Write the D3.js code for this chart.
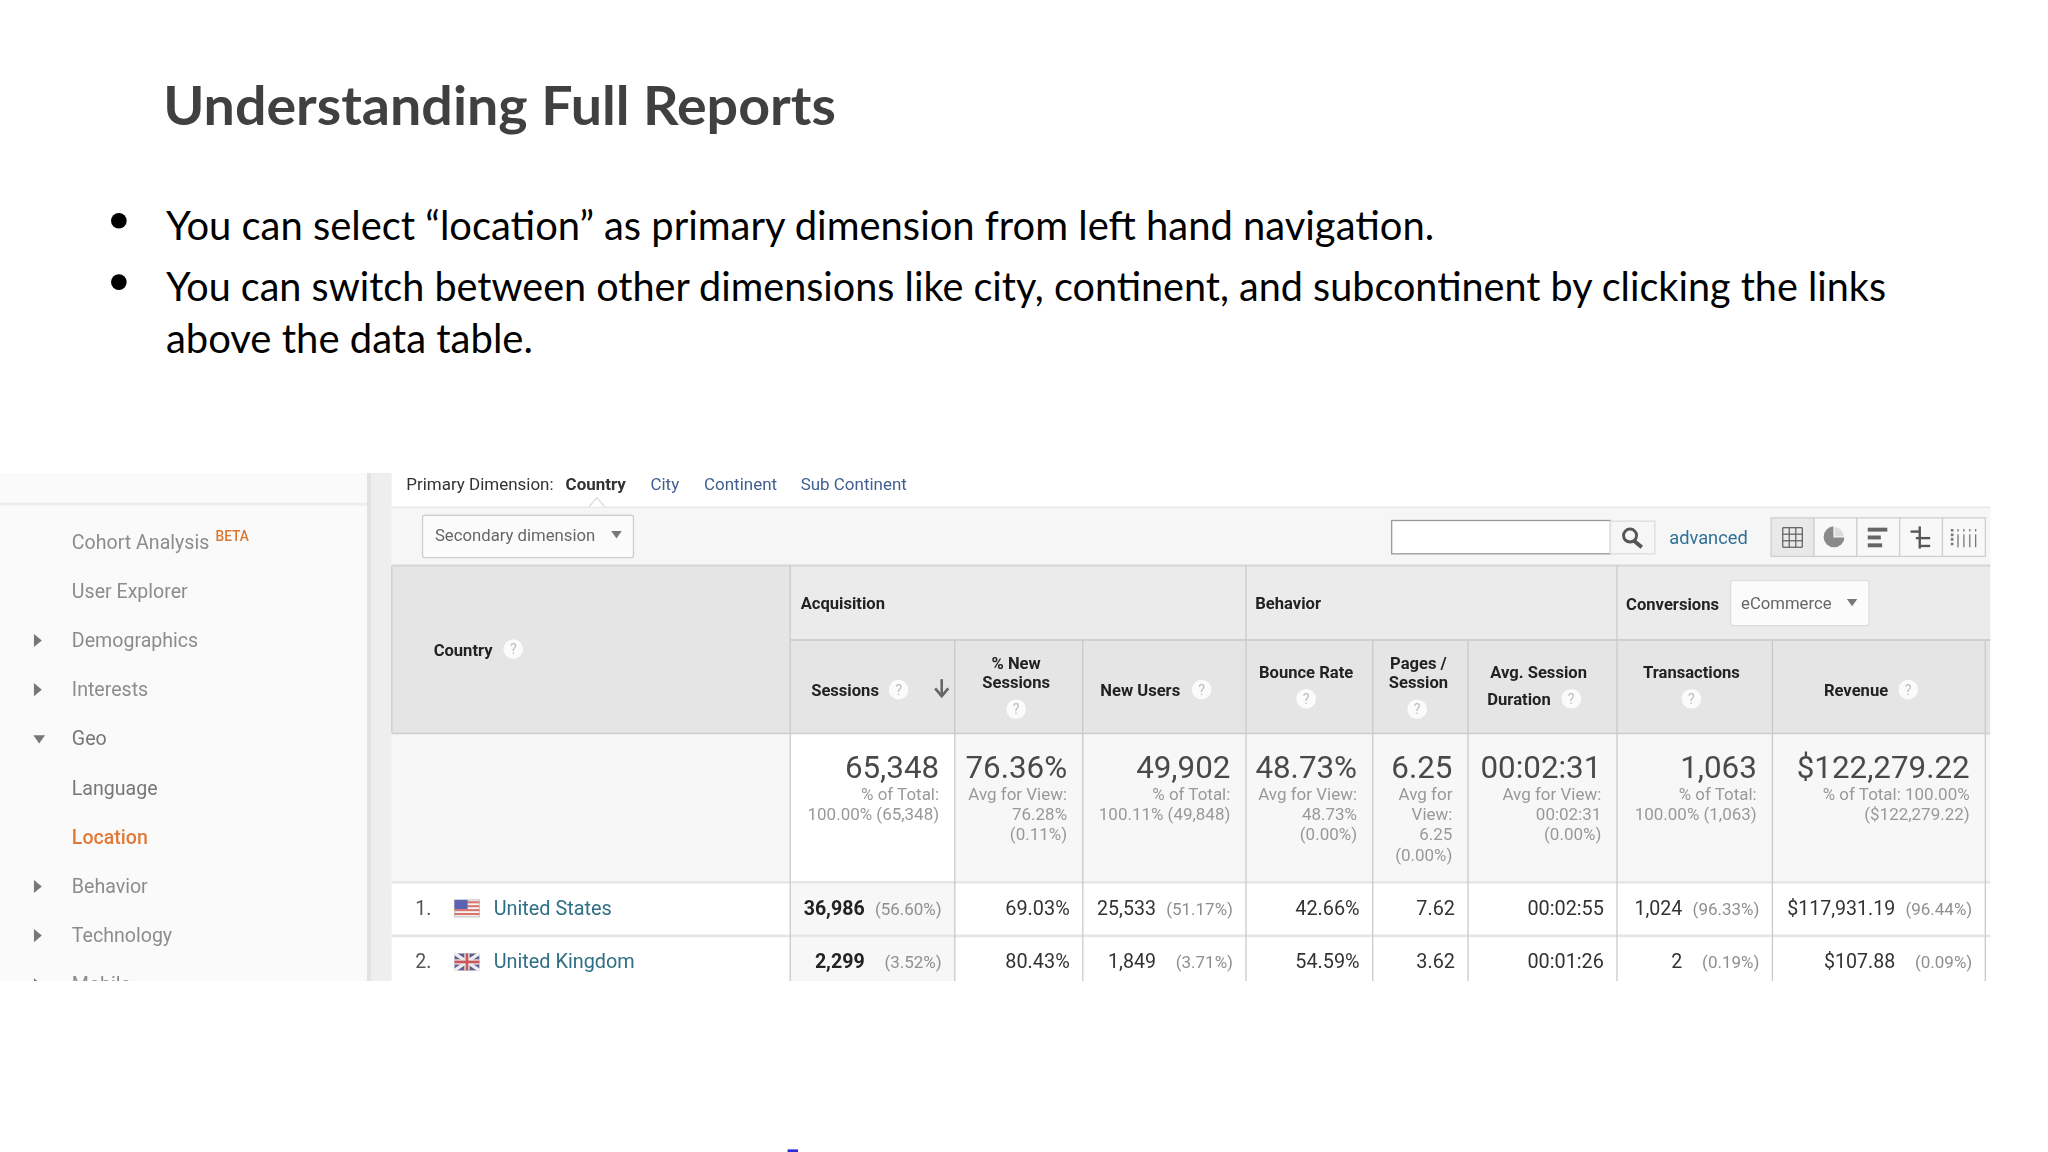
<!DOCTYPE html>
<html>
<head>
<meta charset="utf-8">
<title>Understanding Full Reports</title>
<script src="https://cdn.jsdelivr.net/npm/d3@7"></script>
<style>
  body { margin: 0; background: #fff; }
  text { font-family: Roboto, sans-serif; }
  .slide text { font-family: Lato, Carlito, sans-serif; }
</style>
</head>
<body>
<svg id="chart" width="2048" height="1152" viewBox="0 0 1568 882"></svg>
<script>
// slide text
var slideTitle = "Understanding Full Reports";
var bulletLines = [
  "You can select \u201Clocation\u201D as primary dimension from left hand navigation.",
  "You can switch between other dimensions like city, continent, and subcontinent by clicking the links",
  "above the data table."
];

// report values
var navItems = ["Cohort Analysis", "User Explorer", "Demographics", "Interests", "Geo", "Language", "Location", "Behavior", "Technology", "Mobile"];
var navArrows = ["", "", "right", "right", "down", "", "", "right", "right", "right"];
var dimensions = ["Country", "City", "Continent", "Sub Continent"];
var metrics = ["Sessions", "% New Sessions", "New Users", "Bounce Rate", "Pages / Session", "Avg. Session Duration", "Transactions", "Revenue"];
var totals = ["65,348", "76.36%", "49,902", "48.73%", "6.25", "00:02:31", "1,063", "$122,279.22"];
var totalNotes = [
  ["% of Total:", "100.00% (65,348)"],
  ["Avg for View:", "76.28%", "(0.11%)"],
  ["% of Total:", "100.11% (49,848)"],
  ["Avg for View:", "48.73%", "(0.00%)"],
  ["Avg for", "View:", "6.25", "(0.00%)"],
  ["Avg for View:", "00:02:31", "(0.00%)"],
  ["% of Total:", "100.00% (1,063)"],
  ["% of Total: 100.00%", "($122,279.22)"]
];
var countries = ["United States", "United Kingdom"];
var usValues = ["36,986", "69.03%", "25,533", "42.66%", "7.62", "00:02:55", "1,024", "$117,931.19"];
var usShares = ["(56.60%)", "", "(51.17%)", "", "", "", "(96.33%)", "(96.44%)"];
var ukValues = ["2,299", "80.43%", "1,849", "54.59%", "3.62", "00:01:26", "2", "$107.88"];
var ukShares = ["(3.52%)", "", "(3.71%)", "", "", "", "(0.19%)", "(0.09%)"];

var svg = d3.select("#chart");
svg.append("defs").html(
  '<filter id="soft" x="0" y="0" width="100%" height="100%"><feGaussianBlur stdDeviation="0.4"/></filter>' +
  '<clipPath id="shot"><rect x="0" y="362" width="1524" height="389"/></clipPath>');

// helpers
function rect(g, x0, y0, x1, y1, fill, stroke) {
  return g.append("rect").attr("x", x0).attr("y", y0).attr("width", x1 - x0).attr("height", y1 - y0)
    .attr("fill", fill).attr("stroke", stroke || "none");
}
function line(g, x0, y0, x1, y1, color, w) {
  return g.append("line").attr("x1", x0).attr("y1", y0).attr("x2", x1).attr("y2", y1)
    .attr("stroke", color).attr("stroke-width", w || 1);
}
function label(g, str, x, y, size, color, anchor, weight) {
  return g.append("text").attr("x", x).attr("y", y).attr("font-size", size).attr("fill", color)
    .attr("text-anchor", anchor || "start").attr("font-weight", weight || 400).text(str);
}
function help(g, x, y) {
  g.append("circle").attr("cx", x).attr("cy", y).attr("r", 7.5).attr("fill", "#fbfbfb");
  label(g, "?", x, y + 4, 11, "#bdbdbd", "middle");
}
function tri(g, x, y, dir, s) {
  s = s || 1;
  var p = dir == "right" ? [[x, y - 5], [x + 6, y], [x, y + 5]] : [[x - 5 * s, y - 3 * s], [x + 5 * s, y - 3 * s], [x, y + 4 * s]];
  g.append("path").attr("d", d3.line()(p) + "Z").attr("fill", "#777");
}

// slide header
var slide = svg.append("g").attr("class", "slide");
slide.append("text").attr("x", 125).attr("y", 96).attr("font-size", 41).attr("font-weight", 700).attr("fill", "#404040")
  .attr("textLength", 515).attr("lengthAdjust", "spacingAndGlyphs").text(slideTitle);
var bulletX = [971, 1317, 281];
var bulletY = [183.5, 230.5, 270];
slide.selectAll("text.bullet").data(bulletLines).join("text").attr("class", "bullet")
  .attr("x", 127).attr("y", function(d, i) { return bulletY[i]; })
  .attr("font-size", 31).attr("fill", "#000")
  .attr("textLength", function(d, i) { return bulletX[i]; }).attr("lengthAdjust", "spacingAndGlyphs")
  .text(function(d) { return d; });
slide.selectAll("circle").data([169, 216]).join("circle").attr("cx", 91).attr("cy", function(d) { return d; }).attr("r", 6).attr("fill", "#000");
rect(svg, 603, 880, 611, 882, "#2a2ae0");

// screenshot
var shot = svg.append("g").attr("clip-path", "url(#shot)").attr("filter", "url(#soft)");

// left navigation
rect(shot, 0, 362, 281, 751, "#fafafa");
line(shot, 0, 386, 281, 386, "#ececec", 2);
rect(shot, 281, 362, 300, 751, "#eeeeee");
rect(shot, 281, 362, 284, 751, "#e2e2e2");
var navY = d3.scalePoint().domain(navItems).range([420, 759]);
navItems.forEach(function(d, i) {
  var y = navY(d);
  label(shot, d, 55, y, 15, d == "Location" ? "#e07a38" : (d == "Geo" || d == "Language" ? "#777" : "#8c8c8c"), "start", d == "Location" ? 500 : 400);
  if (navArrows[i]) tri(shot, navArrows[i] == "right" ? 26 : 30, y - 5, navArrows[i], 0.9);
});
label(shot, "BETA", 165, 414, 10.5, "#d9772f", "start", 500);

// dimension bar
rect(shot, 300, 362, 1524, 388, "#ffffff");
line(shot, 300, 388.5, 1524, 388.5, "#e8e8e8", 1.5);
label(shot, "Primary Dimension:", 311, 375, 13, "#333");
var dimX = [433, 498, 539, 613];
dimensions.forEach(function(d, i) {
  label(shot, d, dimX[i], 375, 13, i ? "#3f5f8f" : "#333", "start", i ? 400 : 700);
});
shot.append("path").attr("d", "M451,388L457,381L463,388").attr("fill", "#fff").attr("stroke", "#ddd");

// toolbar
rect(shot, 300, 389, 1524, 433, "#f6f6f6");
rect(shot, 323.5, 394.5, 485, 427, "#fbfbfb", "#cfcfcf").attr("rx", 2);
label(shot, "Secondary dimension", 333, 414, 12.8, "#666");
tri(shot, 472, 409, "down", 0.8);
rect(shot, 1065.5, 398.5, 1233, 424, "#fff", "#999");
rect(shot, 1233, 399, 1267, 424, "#f6f6f6", "#ddd");
shot.append("circle").attr("cx", 1248).attr("cy", 410).attr("r", 5).attr("fill", "none").attr("stroke", "#555").attr("stroke-width", 2.2);
line(shot, 1251, 414, 1257, 419, "#555", 3);
label(shot, "advanced", 1278, 416.5, 14, "#2f7196");

// view switcher icons
var iconX = d3.scaleBand().domain(d3.range(5)).range([1356, 1520]);
iconX.domain().forEach(function(i) {
  rect(shot, iconX(i), 396.5, iconX(i) + iconX.bandwidth(), 426, i ? "#f8f8f8" : "#e9e9e9", "#cfcfcf");
});
var ic = iconX.bandwidth() / 2;
var c0 = iconX(0) + ic, c1 = iconX(1) + ic, c2 = iconX(2) + ic, c3 = iconX(3) + ic, c4 = iconX(4) + ic;
d3.range(4).forEach(function(k) {
  line(shot, c0 - 7.5 + k * 5, 404, c0 - 7.5 + k * 5, 419, "#666");
  line(shot, c0 - 7.5, 404 + k * 5, c0 + 7.5, 404 + k * 5, "#666");
});
shot.append("circle").attr("cx", c1 - 1).attr("cy", 411).attr("r", 8).attr("fill", "#8a8a8a");
shot.append("path").attr("d", "M" + (c1 - 1) + ",411V403A8,8 0 0 1 " + (c1 + 7) + ",411Z").attr("fill", "#ddd").attr("stroke", "#f8f8f8");
rect(shot, c2 - 8, 404, c2 + 7, 407, "#666");
rect(shot, c2 - 8, 410, c2 + 2, 413, "#666");
rect(shot, c2 - 8, 416, c2 + 3, 419, "#666");
line(shot, c3 - 1, 403, c3 - 1, 420, "#555", 1.8);
line(shot, c3 - 8, 407, c3 - 1, 407, "#555", 1.8);
line(shot, c3 - 4, 412, c3 + 7, 412, "#555", 1.8);
line(shot, c3 - 1, 418, c3 + 7, 418, "#555", 1.8);
d3.range(5).forEach(function(k) {
  var x = c4 - 9 + k * 4.5;
  line(shot, x, 405, x, 419, "#777", k ? 1 : 2).attr("stroke-dasharray", k ? "2,2,10" : "2,1.5");
});

// table layout, driven by the metric columns
var colEdges = [605, 731, 829, 954, 1051, 1124, 1238, 1357, 1520];
var colLeft = d3.scaleOrdinal().domain(metrics).range(colEdges.slice(0, 8));
var colRight = d3.scaleOrdinal().domain(metrics).range(colEdges.slice(1));
var hasShare = [true, false, true, false, false, false, true, true];

// header backgrounds
rect(shot, 300, 433, 1524, 490, "#ebebeb");
rect(shot, 605, 490, 1524, 561, "#e5e5e5");
rect(shot, 300, 433, 605, 561, "#e5e5e5");
// totals row backgrounds
rect(shot, 300, 562, 1524, 675, "#f7f7f7");
rect(shot, colLeft(metrics[0]), 562, colRight(metrics[0]), 675, "#ffffff");
// data rows
rect(shot, 300, 676, 1524, 751, "#ffffff");
rect(shot, colLeft(metrics[0]), 676, colRight(metrics[0]), 751, "#f7f7f7");

line(shot, 300, 433, 1524, 433, "#d5d5d5", 1.5);
line(shot, 605, 490, 1524, 490, "#cfcfcf", 1.5);
line(shot, 300, 561.5, 1524, 561.5, "#cfcfcf", 1.5);
line(shot, 300, 675.5, 1524, 675.5, "#e6e6e6", 2);
line(shot, 300, 716.5, 1524, 716.5, "#e6e6e6", 2);
line(shot, 300, 433, 300, 561, "#cfcfcf");
[605, 954, 1238].forEach(function(x) { line(shot, x, 433, x, 751, "#cacaca"); });
[731, 829, 1051, 1124, 1357, 1520].forEach(function(x) { line(shot, x, 490, x, 751, "#cacaca"); });

// header labels
label(shot, "Country", 332, 502, 12.7, "#222", "start", 700);
help(shot, 393, 497);
label(shot, "Acquisition", 613, 466, 12.7, "#222", "start", 700);
label(shot, "Behavior", 961, 466, 12.7, "#222", "start", 700);
label(shot, "Conversions", 1245, 467, 12.7, "#222", "start", 700);
rect(shot, 1325, 444.5, 1431, 479, "#fbfbfb", "#ddd").attr("rx", 2);
label(shot, "eCommerce", 1333, 466, 12.8, "#666");
tri(shot, 1418, 461, "down", 0.8);

var headerLines = [["Sessions"], ["% New", "Sessions"], ["New Users"], ["Bounce Rate"], ["Pages /", "Session"], ["Avg. Session", "Duration"], ["Transactions"], ["Revenue"]];
var headerX = [647, 778, 873, 1000, 1086, 1178, 1295, 1421];
var headerY = [[533], [512, 527], [533], [519], [512, 527], [519, 540], [519], [533]];
var helpX = [688, 778, 920, 1000, 1085, 1203, 1295, 1461];
var helpY = [528, 543, 528, 535, 543, 535, 535, 528];
metrics.forEach(function(m, i) {
  headerLines[i].forEach(function(t, k) {
    label(shot, t, t == "Duration" ? 1163 : headerX[i], headerY[i][k], 12.7, "#222", "middle", 700);
  });
  help(shot, helpX[i], helpY[i]);
});
// sort arrow
line(shot, 721, 520, 721, 532, "#666", 2);
shot.append("path").attr("d", "M716,527L721,533L726,527").attr("fill", "none").attr("stroke", "#666").attr("stroke-width", 2);

// totals row
var noteY = d3.scaleLinear().domain([0, 1]).range([612.5, 628]);
metrics.forEach(function(m, i) {
  var right = colRight(m) - 12;
  label(shot, totals[i], right, 596, 24, "#4a4a4a", "end", 400);
  totalNotes[i].forEach(function(t, k) {
    label(shot, t, right, noteY(k), 13, "#999", "end");
  });
});

// country rows
var rows = [
  { name: countries[0], values: usValues, shares: usShares, y: 700.5 },
  { name: countries[1], values: ukValues, shares: ukShares, y: 741.5 }
];
rows.forEach(function(row, r) {
  label(shot, (r + 1) + ".", 318, row.y, 15, "#555");
  label(shot, row.name, 378, row.y, 15.2, "#2f6f85");
  metrics.forEach(function(m, i) {
    var right = colRight(m) - 10;
    if (hasShare[i]) {
      label(shot, row.shares[i], right, row.y, 13, "#8f8f8f", "end");
      label(shot, row.values[i], right - 59, row.y, i ? 15 : 15, i ? "#333" : "#222", "end", i ? 400 : 700);
    } else {
      label(shot, row.values[i], right, row.y, 15.2, "#333", "end");
    }
  });
});

// flags
var fy = 689;
rect(shot, 348, fy, 367, fy + 13, "#f4f4f4", "#ccc");
d3.range(4).forEach(function(k) { rect(shot, 348, fy + 1 + k * 3, 367, fy + 2.6 + k * 3, "#d9756e"); });
rect(shot, 348, fy, 358, fy + 7, "#5a64b4");
var gy = 730;
rect(shot, 348, gy, 367, gy + 13, "#5b5f8f");
line(shot, 348, gy, 367, gy + 13, "#eee", 2.5);
line(shot, 348, gy + 13, 367, gy, "#eee", 2.5);
rect(shot, 355.5, gy, 359.5, gy + 13, "#f0e4e4");
rect(shot, 348, gy + 4.5, 367, gy + 8.5, "#f0e4e4");
rect(shot, 356.5, gy, 358.5, gy + 13, "#c9575a");
rect(shot, 348, gy + 5.5, 367, gy + 7.5, "#c9575a");
</script>
</body>
</html>
